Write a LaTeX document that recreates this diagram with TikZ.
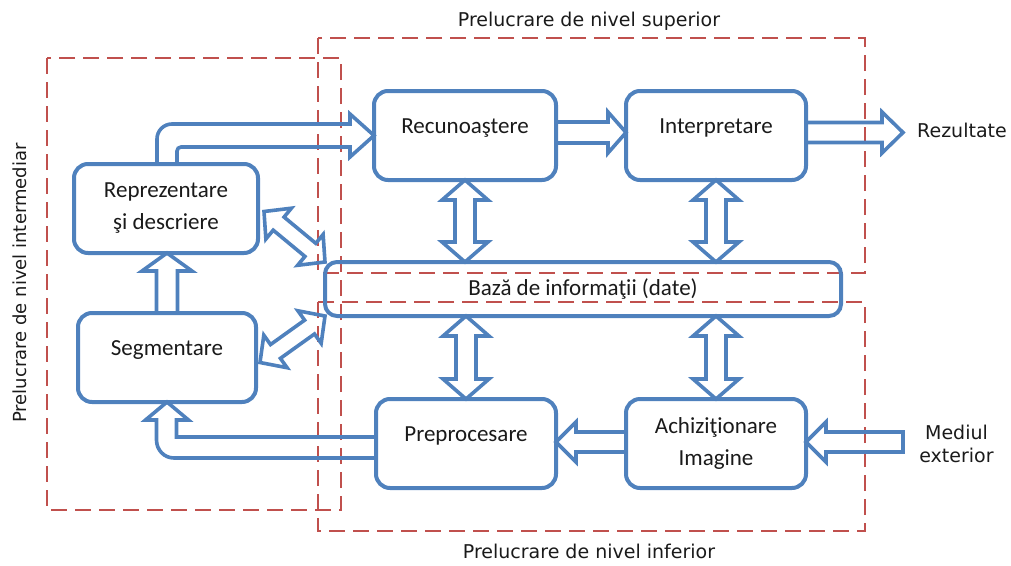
\documentclass[tikz,border=0pt]{standalone}
\usepackage{fontspec}
\setmainfont{Carlito}
\newfontfamily\labelfont{DejaVu Sans}
\usetikzlibrary{calc}
\definecolor{boxblue}{HTML}{4F81BD}
\definecolor{zonered}{HTML}{C0504D}
\definecolor{ink}{HTML}{1A1A1A}

\tikzset{
  stage/.style={draw=boxblue, line width=4pt, rounded corners=14pt, outer sep=0pt,
    inner sep=0pt, align=center, text=ink, font=\fontsize{23}{32}\selectfont},
  oneline/.style={text height=15pt, text depth=20pt},
  blockarrow/.style={draw=boxblue, line width=3.6pt, line join=miter, miter limit=6},
  zone/.style={draw=zonered, line width=1.8pt, dash pattern=on 16pt off 8pt},
  outerlabel/.style={text=ink, inner sep=0pt, font=\labelfont\fontsize{19}{23}\selectfont}
}

% double-headed block arrow: tips, head length, head half width, shaft half width
\newcommand\twohead[5]{%
  \draw[blockarrow] (#1)
    -- ($(#1)!#3!(#2)!#4!90:(#2)$)
    -- ($(#1)!#3!(#2)!#5!90:(#2)$)
    -- ($(#2)!#3!(#1)!#5!-90:(#1)$)
    -- ($(#2)!#3!(#1)!#4!-90:(#1)$)
    -- (#2)
    -- ($(#2)!#3!(#1)!#4!90:(#1)$)
    -- ($(#2)!#3!(#1)!#5!90:(#1)$)
    -- ($(#1)!#3!(#2)!#5!-90:(#2)$)
    -- ($(#1)!#3!(#2)!#4!-90:(#2)$)
    -- cycle;}

% single-headed block arrow: tail, tip, head length, head half width, shaft half width
\newcommand\onehead[5]{%
  \draw[blockarrow] ($(#1)!#5!90:(#2)$)
    -- ($(#2)!#3!(#1)!#5!-90:(#1)$)
    -- ($(#2)!#3!(#1)!#4!-90:(#1)$)
    -- (#2)
    -- ($(#2)!#3!(#1)!#4!90:(#1)$)
    -- ($(#2)!#3!(#1)!#5!90:(#1)$)
    -- ($(#1)!#5!-90:(#2)$)
    -- cycle;}

\begin{document}
\begin{tikzpicture}[x=1pt, y=-1pt]
\useasboundingbox (0,0) rectangle (1011,565);

% processing levels
\draw[zone] (318,38) rectangle (865,273);
\draw[zone] (318,302) rectangle (865,531);
\draw[zone] (47,58) rectangle (341,510);

\node[outerlabel, anchor=base] (sup) at (589,26) {Prelucrare de nivel superior};
\node[outerlabel, anchor=base] (inf) at (589,558) {Prelucrare de nivel inferior};
\node[outerlabel, font=\labelfont\fontsize{18}{22}\selectfont, rotate=90] (mid) at (20,283) {Prelucrare de nivel intermediar};
\node[outerlabel, anchor=base west] (rez) at (917,137) {Rezultate};
\node[outerlabel, align=center] (env) at (956.5,443.5) {Mediul\\exterior};

% processing stages
\node[stage, oneline, minimum width=182pt, minimum height=89pt] (rec) at (465,135.5) {Recunoaştere};
\node[stage, oneline, minimum width=180pt, minimum height=89pt] (int) at (716,135.5) {Interpretare};
\node[stage, minimum width=184pt, minimum height=89pt] (rep) at (166,208.5) {Reprezentare\\şi descriere};
\node[stage, oneline, minimum width=178pt, minimum height=89pt] (seg) at (167,357.5) {Segmentare};
\node[stage, rounded corners=12pt, minimum width=516pt, minimum height=54pt] (base) at (583,289) {Bază de informaţii (date)};
\node[stage, oneline, minimum width=180pt, minimum height=89pt] (pre) at (466,443.5) {Preprocesare};
\node[stage, minimum width=180pt, minimum height=89pt] (acq) at (716,443.5) {Achiziţionare\\Imagine};

% arrow end points
\coordinate (a1) at ($(rec.east)+(0,-3)$);
\coordinate (a2) at (a1 -| int.west);
\coordinate (b1) at ($(int.east)+(0,-3)$);
\coordinate (b2) at (903,132.5);
\coordinate (c1) at (903,442);
\coordinate (c2) at (c1 -| acq.east);
\coordinate (d1) at ($(acq.west)+(0,-1.5)$);
\coordinate (d2) at (d1 -| pre.east);
\coordinate (e1) at (rec.south);
\coordinate (e2) at (rec.south |- base.north);
\coordinate (f1) at (int.south);
\coordinate (f2) at (int.south |- base.north);
\coordinate (g1) at (pre.north |- base.south);
\coordinate (g2) at (pre.north);
\coordinate (h1) at (acq.north |- base.south);
\coordinate (h2) at (acq.north);
\coordinate (i1) at ($(rep.east)+(6,3)$);
\coordinate (i2) at (base.north west);
\coordinate (j1) at ($(seg.east)+(4,5)$);
\coordinate (j2) at (base.south west);
\coordinate (s1) at (seg.north);
\coordinate (s2) at (seg.north |- rep.south);

% straight block arrows
\onehead{a1}{a2}{18pt}{20.5pt}{10.5pt}
\onehead{b1}{b2}{21pt}{20.5pt}{10pt}
\onehead{c1}{c2}{20pt}{20pt}{10pt}
\onehead{d1}{d2}{20pt}{20pt}{10pt}
\onehead{s1}{s2}{18pt}{25pt}{10.5pt}

\twohead{e1}{e2}{20pt}{23pt}{10pt}
\twohead{f1}{f2}{20pt}{23pt}{10pt}
\twohead{g1}{g2}{20pt}{23pt}{10pt}
\twohead{h1}{h2}{20pt}{23pt}{10pt}
\twohead{i1}{i2}{19pt}{20pt}{8.5pt}
\twohead{j1}{j2}{19pt}{20pt}{8.5pt}

% bent block arrows
\draw[blockarrow] ($(rep.north)+(-9,0)$) -- (157,139)
  .. controls (157,130.7) and (163.7,124) .. (172,124)
  -- (350,124) -- (350,114) -- (rec.west) -- (350,157) -- (350,147) -- (181,147)
  .. controls (178.8,147) and (177,148.8) .. (177,151)
  -- ($(rep.north)+(11,0)$);

\draw[blockarrow] ($(pre.west)+(0,14.5)$) -- (174,458)
  .. controls (164.1,458) and (156.5,449.9) .. (156.5,440)
  -- (156.5,420) -- (145.5,420) -- (seg.south) -- (188.5,420) -- (176.5,420)
  -- (176.5,437) -- ($(pre.west)+(0,-6.5)$);
\end{tikzpicture}
\end{document}
